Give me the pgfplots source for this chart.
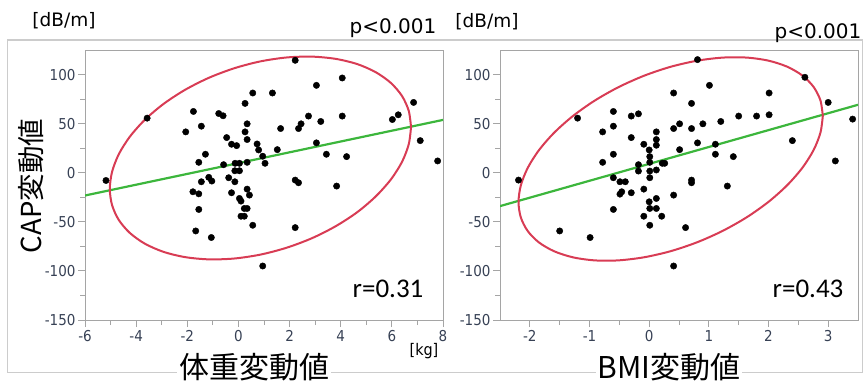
\documentclass[border=0pt]{standalone}
\usepackage{fontspec}
\usepackage{pgfplots}
\usepackage{pgfplotstable}
\pgfplotsset{compat=1.18}
\setmainfont{DejaVu Sans}
\newfontfamily\cjk{Noto Sans CJK JP}
\newfontfamily\calfont{Carlito}
\newfontfamily\tickfont{DejaVu Sans Condensed}
\definecolor{ellred}{RGB}{216,60,84}
\definecolor{fitgreen}{RGB}{60,182,60}
\definecolor{ticktext}{RGB}{55,65,85}
\definecolor{axgray}{RGB}{165,165,165}

\pgfplotstableread{
x y
-5.18 -7.9
-3.57 55.6
-2.06 41.6
-1.76 62.4
-1.45 47.4
-1.29 18.8
-1.55 10.6
-0.77 60.3
-0.60 58
-0.46 35.8
-0.27 29
-0.07 27.6
0.26 70.6
0.56 81.2
0.34 49.8
0.26 41.6
0.34 33.8
0.73 29.3
0.79 23.2
-0.58 8.2
-0.13 9.6
0.04 9.6
-0.14 2
0.04 2
0.34 10.6
-1.16 -4.7
-1.04 -8.5
-1.45 -9.2
-0.38 -5.1
-0.14 -9.2
-1.78 -19.4
-1.55 -21.5
-1.55 -37.4
-1.67 -59.3
-1.06 -66
-0.27 -20.4
0.04 -26.2
0.10 -28.9
0.34 -16.7
0.43 -22.8
0.23 -36.4
0.34 -36.4
0.10 -44.3
0.23 -44.3
0.56 -53.5
2.22 114.5
4.06 96.5
3.05 89
1.33 81.2
6.85 71.6
6.02 54.2
6.25 59
2.74 57.7
3.22 52.2
4.06 57.7
2.45 49.8
2.35 45
1.65 45
3.05 30.4
1.52 23.5
0.95 16.8
1.04 9.6
3.44 18.8
4.23 16.4
7.11 32.7
7.79 12
2.22 -7.5
2.35 -10.2
3.84 -13.6
2.22 -55.9
0.95 -95
}\leftdata

\pgfplotstableread{
x y
-2.19 -7.5
-1.2 55.6
-0.78 41.6
-0.6 62.4
-0.6 47.4
-0.3 57.7
-0.18 60
-0.3 35.8
-0.09 29
0.0 23.2
-0.6 18.8
-0.78 10.6
-0.18 8.2
-0.18 1.7
-0.6 -5.1
-0.49 -9.2
-0.4 -9.2
0.81 115.2
2.61 97.2
1.01 89
0.41 81.2
2.01 81.2
0.71 70.6
3.0 71.6
3.41 54.6
1.5 57.7
1.8 57.7
2.01 59
1.2 52.2
0.9 49.8
0.51 49.8
0.41 45
0.71 45
0.12 41.6
0.12 33.8
0.12 28
0.81 30.4
0.51 23.5
1.11 29
1.11 18.8
1.41 16.4
2.4 32.7
3.12 12
0.01 16.4
0.01 10.6
0.22 9.6
0.26 9.6
0.01 1.7
0.12 2.8
0.01 -5.1
0.71 -7.5
0.71 -10.2
1.31 -13.6
-0.09 -16.7
-0.46 -19.4
-0.49 -21.8
-0.3 -20.4
-0.6 -37.4
-1.5 -59.3
-0.99 -66
-0.09 -44.3
0.41 -22.8
0.0 -29.6
0.12 -26.2
0.01 -36.4
0.12 -36.4
0.21 -44.3
0.01 -53.5
0.61 -55.9
0.41 -95
}\rightdata

\pgfplotsset{jmp/.style={
  scale only axis, width=358bp, height=270bp,
  ymin=-150, ymax=125, ytick={-150,-100,...,100}, minor y tick num=1,
  axis line style={axgray, line width=0.9bp},
  tick align=outside, tick pos=left,
  major tick length=7bp, minor tick length=5bp,
  every tick/.style={axgray, line width=0.9bp},
  tick label style={font=\tickfont\fontsize{15bp}{16bp}\selectfont, text=ticktext},
  yticklabel style={xshift=1bp},
  /pgf/number format/assume math mode=true,
  clip=true,
}}

\begin{document}
\begin{tikzpicture}[x=1bp,y=1bp]
\path[use as bounding box] (0,0) rectangle (864,382);
\draw[black!20, line width=1bp] (7,342) rectangle (862,10);

\begin{axis}[jmp, at={(85bp,62bp)}, anchor=south west,
  xmin=-6, xmax=8, xtick={-6,-4,...,8}, minor x tick num=1]
\addplot[fitgreen, line width=2.2bp] coordinates {(-6,-23.2) (8,53.8)};
\addplot[ellred, line width=2bp, smooth] coordinates {
(6.75,46.5) (6.66,63.1) (6.395,78.25) (5.96,91.48) (5.37,102.38) (4.65,110.62)
(3.805,115.96) (2.874,118.24) (1.88,117.37) (0.86,113.4) (-0.16,106.43) (-1.154,96.7)
(-2.085,84.46) (-2.926,70.12) (-3.652,54.12) (-4.24,36.92) (-4.675,19.05) (-4.94,1.06)
(-5.03,-16.5) (-4.94,-33.1) (-4.675,-48.25) (-4.24,-61.48) (-3.652,-72.38) (-2.926,-80.62)
(-2.085,-85.96) (-1.154,-88.24) (-0.16,-87.37) (0.86,-83.4) (1.88,-76.43) (2.874,-66.7)
(3.805,-54.46) (4.65,-40.12) (5.37,-24.12) (5.96,-6.92) (6.395,10.95) (6.66,28.94)
(6.75,46.5)};
\addplot[only marks, mark=*, mark size=3.2bp, black] table {\leftdata};
\end{axis}

\begin{axis}[jmp, at={(500bp,62bp)}, anchor=south west,
  xmin=-2.5, xmax=3.5, xtick={-2,-1,...,3}, minor x tick num=1]
\addplot[fitgreen, line width=2.2bp] coordinates {(-2.5,-34) (3.5,69.2)};
\addplot[ellred, line width=2bp, smooth] coordinates {
(2.91,57.9) (2.871,73.53) (2.756,87.36) (2.568,98.97) (2.313,107.99) (1.999,114.15)
(1.635,117.27) (1.232,117.25) (0.803,114.09) (0.36,107.9) (-0.083,98.85) (-0.512,87.23)
(-0.915,73.37) (-1.279,57.71) (-1.593,40.73) (-1.848,22.93) (-2.036,4.86) (-2.151,-12.93)
(-2.19,-29.9) (-2.151,-45.53) (-2.036,-59.36) (-1.848,-70.97) (-1.593,-79.99) (-1.279,-86.15)
(-0.915,-89.27) (-0.512,-89.25) (-0.083,-86.09) (0.36,-79.9) (0.803,-70.85) (1.232,-59.23)
(1.635,-45.37) (1.999,-29.71) (2.313,-12.73) (2.568,5.07) (2.756,23.14) (2.871,40.93)
(2.91,57.9)};
\addplot[only marks, mark=*, mark size=3.2bp, black] table {\rightdata};
\end{axis}

% annotations
\node[font=\fontsize{18.5bp}{20bp}\selectfont] at (64,361) {[dB/m]};
\node[font=\fontsize{18.5bp}{20bp}\selectfont] at (487,360) {[dB/m]};
\node[font=\fontsize{20bp}{22bp}\selectfont] at (393,354) {p<0.001};
\node[font=\fontsize{20bp}{22bp}\selectfont] at (818,349) {p<0.001};
\node[font=\calfont\fontsize{27bp}{29bp}\selectfont] at (388,93) {r=0.31};
\node[font=\calfont\fontsize{27bp}{29bp}\selectfont] at (808,93) {r=0.43};
\node[font=\tickfont\fontsize{16bp}{18bp}\selectfont, inner sep=0pt] at (424,31) {[kg]};
\node[fill=white, inner sep=2bp, font=\cjk\fontsize{30bp}{32bp}\selectfont] at (254,15) {体重変動値};
\node[fill=white, inner sep=2bp, font=\cjk\fontsize{30bp}{32bp}\selectfont] at (669,15) {BMI変動値};
\node[fill=white, inner sep=2bp, rotate=90, font=\cjk\fontsize{27.5bp}{30bp}\selectfont] at (31,196) {CAP変動値};
\end{tikzpicture}
\end{document}
